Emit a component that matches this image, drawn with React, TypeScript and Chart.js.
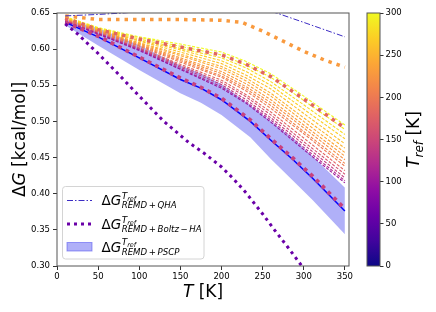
import React, { useEffect, useRef } from "react";
import { Chart, registerables } from "chart.js";
Chart.register(...registerables);

// ---------------- data ----------------
const T_FAN = [10, 50, 100, 150, 200, 230, 260, 300, 350];
const TREF_FAN = [300, 290, 280, 270, 260, 250, 240, 230, 220, 210, 200, 180, 160, 140, 120, 100];
const DG_TREF_300 = [0.645, 0.630, 0.617, 0.607, 0.596, 0.583, 0.566, 0.535, 0.495];
const DG_TREF_290 = [0.644, 0.629, 0.616, 0.604, 0.592, 0.578, 0.561, 0.529, 0.489];
const DG_TREF_280 = [0.644, 0.629, 0.614, 0.601, 0.588, 0.574, 0.555, 0.523, 0.482];
const DG_TREF_270 = [0.643, 0.628, 0.612, 0.599, 0.584, 0.569, 0.550, 0.517, 0.476];
const DG_TREF_260 = [0.643, 0.627, 0.611, 0.596, 0.580, 0.564, 0.545, 0.511, 0.469];
const DG_TREF_250 = [0.642, 0.626, 0.609, 0.593, 0.576, 0.560, 0.539, 0.505, 0.463];
const DG_TREF_240 = [0.642, 0.626, 0.608, 0.591, 0.573, 0.556, 0.535, 0.500, 0.457];
const DG_TREF_230 = [0.641, 0.625, 0.607, 0.588, 0.569, 0.552, 0.530, 0.495, 0.452];
const DG_TREF_220 = [0.641, 0.625, 0.606, 0.586, 0.566, 0.548, 0.526, 0.491, 0.447];
const DG_TREF_210 = [0.640, 0.624, 0.605, 0.584, 0.563, 0.545, 0.522, 0.486, 0.442];
const DG_TREF_200 = [0.640, 0.624, 0.604, 0.582, 0.561, 0.542, 0.518, 0.483, 0.438];
const DG_TREF_180 = [0.640, 0.623, 0.602, 0.579, 0.557, 0.537, 0.513, 0.477, 0.432];
const DG_TREF_160 = [0.639, 0.622, 0.601, 0.577, 0.554, 0.534, 0.509, 0.472, 0.427];
const DG_TREF_140 = [0.639, 0.622, 0.600, 0.575, 0.551, 0.530, 0.505, 0.468, 0.422];
const DG_TREF_120 = [0.638, 0.621, 0.599, 0.573, 0.548, 0.527, 0.502, 0.464, 0.418];
const DG_TREF_100 = [0.638, 0.621, 0.598, 0.572, 0.546, 0.525, 0.499, 0.461, 0.415];
const FAN_SERIES = [
  DG_TREF_300, DG_TREF_290, DG_TREF_280, DG_TREF_270, DG_TREF_260, DG_TREF_250,
  DG_TREF_240, DG_TREF_230, DG_TREF_220, DG_TREF_210, DG_TREF_200, DG_TREF_180,
  DG_TREF_160, DG_TREF_140, DG_TREF_120, DG_TREF_100,
];

const DG_UPPER_DOTTED = [0.643, 0.627, 0.614, 0.603, 0.592, 0.579, 0.562, 0.531, 0.491];

const T_PSCP = [10, 50, 100, 150, 175, 200, 235, 260, 287, 311, 350];
const DG_PSCP = [0.637, 0.617, 0.588, 0.558, 0.546, 0.530, 0.500, 0.474, 0.447, 0.421, 0.376];
const DG_PSCP_HIGH = [0.641, 0.629, 0.605, 0.577, 0.566, 0.551, 0.522, 0.500, 0.476, 0.451, 0.408];
const DG_PSCP_LOW = [0.633, 0.605, 0.571, 0.539, 0.526, 0.509, 0.478, 0.448, 0.418, 0.391, 0.344];
const DG_LOWER_DOTTED = [0.637, 0.618, 0.589, 0.560, 0.547, 0.532, 0.502, 0.476, 0.449, 0.424, 0.379];

const T_QHA = [10, 50, 80, 150, 200, 250, 267, 300, 350];
const DG_QHA = [0.646, 0.648, 0.650, 0.656, 0.658, 0.655, 0.650, 0.637, 0.617];

const T_BOLTZ = [10, 25, 50, 75, 100, 130, 160, 180, 200, 215, 230, 250, 265, 280, 297, 320, 350];
const DG_BOLTZ = [0.635, 0.621, 0.594, 0.565, 0.535, 0.500, 0.471, 0.455, 0.437, 0.420, 0.401, 0.372, 0.349, 0.327, 0.301, 0.265, 0.220];

const T_ORANGE = [10, 50, 100, 150, 200, 225, 250, 275, 300, 325, 350];
const DG_ORANGE = [0.646, 0.641, 0.641, 0.641, 0.640, 0.637, 0.625, 0.611, 0.597, 0.585, 0.575];

const X_TICK_STEP = 50;
const Y_TICK_STEP = 0.05;
const CB_TICK_STEP = 50;

// ---------------- styles ----------------
const FONT = '"DejaVu Sans", "Liberation Sans", sans-serif';
const PLASMA = ["#0d0887", "#41049d", "#6a00a8", "#8f0da4", "#b12a90", "#cc4778", "#e16462", "#f2844b", "#fca636", "#fcce25", "#f0f921"];

function hexToRgb(h: string) {
  return [parseInt(h.slice(1, 3), 16), parseInt(h.slice(3, 5), 16), parseInt(h.slice(5, 7), 16)];
}
function plasma(t: number) {
  const tt = Math.max(0, Math.min(1, t)) * (PLASMA.length - 1);
  const i = Math.min(PLASMA.length - 2, Math.floor(tt));
  const f = tt - i;
  const a = hexToRgb(PLASMA[i]);
  const b = hexToRgb(PLASMA[i + 1]);
  const c = a.map((v, k) => Math.round(v + (b[k] - v) * f));
  return `rgb(${c[0]},${c[1]},${c[2]})`;
}

const zip = (xs: number[], ys: number[]) => xs.map((x, i) => ({ x, y: ys[i] }));

type Seg = { t: string; font: string; dy?: number; gap?: number };
function segWidth(ctx: CanvasRenderingContext2D, segs: Seg[]) {
  let w = 0;
  for (const s of segs) {
    ctx.font = s.font;
    w += ctx.measureText(s.t).width + 2 * (s.gap || 0);
  }
  return w;
}
function drawSegs(ctx: CanvasRenderingContext2D, segs: Seg[], x: number, y: number) {
  let cx = x;
  for (const s of segs) {
    ctx.font = s.font;
    cx += s.gap || 0;
    ctx.fillText(s.t, cx, y + (s.dy || 0));
    cx += ctx.measureText(s.t).width + (s.gap || 0);
  }
  return cx;
}

function drawLegendLabel(ctx: CanvasRenderingContext2D, x: number, y: number, sub: Seg[]) {
  const main = 13.5;
  let cx = drawSegs(ctx, [
    { t: "Δ", font: `${main}px ${FONT}` },
    { t: "G", font: `italic ${main}px ${FONT}` },
  ], x, y);
  cx += 0.5;
  const tx = drawSegs(ctx, [{ t: "T", font: `italic 9px ${FONT}` }], cx, y - 6.5);
  drawSegs(ctx, [{ t: "ref", font: `italic 6.5px ${FONT}` }], tx, y - 4.5);
  drawSegs(ctx, sub, cx, y + 3);
}

const decorPlugin = {
  id: "decor",
  afterDraw(chart: any) {
    const ctx: CanvasRenderingContext2D = chart.ctx;
    const a = chart.chartArea;
    ctx.save();
    // frame
    ctx.strokeStyle = "#555";
    ctx.lineWidth = 1;
    ctx.setLineDash([]);
    ctx.strokeRect(a.left, a.top, a.right - a.left, a.bottom - a.top);

    // legend box
    const bx = 62.5, by = 186.5, bw = 141.5, bh = 72.5, r = 3;
    ctx.beginPath();
    ctx.moveTo(bx + r, by);
    ctx.arcTo(bx + bw, by, bx + bw, by + bh, r);
    ctx.arcTo(bx + bw, by + bh, bx, by + bh, r);
    ctx.arcTo(bx, by + bh, bx, by, r);
    ctx.arcTo(bx, by, bx + bw, by, r);
    ctx.closePath();
    ctx.fillStyle = "rgba(255,255,255,0.85)";
    ctx.fill();
    ctx.strokeStyle = "#d4d4d4";
    ctx.lineWidth = 1;
    ctx.stroke();

    // entry 1: dash-dot
    ctx.strokeStyle = "#3c2cc4";
    ctx.lineWidth = 1;
    ctx.setLineDash([6, 2, 1.5, 2]);
    ctx.beginPath();
    ctx.moveTo(67, 200.5);
    ctx.lineTo(92, 200.5);
    ctx.stroke();
    // entry 2: dotted
    ctx.strokeStyle = "#6a00a8";
    ctx.lineWidth = 3;
    ctx.setLineDash([3, 4]);
    ctx.beginPath();
    ctx.moveTo(67, 224);
    ctx.lineTo(92, 224);
    ctx.stroke();
    ctx.setLineDash([]);
    // entry 3: patch
    ctx.fillStyle = "rgba(80,80,240,0.45)";
    ctx.fillRect(67, 242.5, 25, 8.5);
    ctx.strokeStyle = "rgba(80,80,240,0.55)";
    ctx.lineWidth = 1;
    ctx.strokeRect(67, 242.5, 25, 8.5);

    ctx.fillStyle = "#000";
    ctx.textBaseline = "alphabetic";
    ctx.textAlign = "left";
    const it = `italic 8.6px ${FONT}`;
    const up = `8.6px ${FONT}`;
    drawLegendLabel(ctx, 101.5, 205, [
      { t: "REMD", font: it }, { t: "+", font: up, gap: 1.6 }, { t: "QHA", font: it },
    ]);
    drawLegendLabel(ctx, 101.5, 229, [
      { t: "REMD", font: it }, { t: "+", font: up, gap: 1.6 }, { t: "Boltz", font: it },
      { t: "−", font: up, gap: 1.6 }, { t: "HA", font: it },
    ]);
    drawLegendLabel(ctx, 101.5, 251.5, [
      { t: "REMD", font: it }, { t: "+", font: up, gap: 1.6 }, { t: "PSCP", font: it },
    ]);

    // axis titles
    const big = 17;
    const ySegs: Seg[] = [
      { t: "Δ", font: `${big}px ${FONT}` },
      { t: "G", font: `italic ${big}px ${FONT}` },
      { t: " [kcal/mol]", font: `${big}px ${FONT}` },
    ];
    ctx.save();
    ctx.translate(25, (a.top + a.bottom) / 2);
    ctx.rotate(-Math.PI / 2);
    const yw = segWidth(ctx, ySegs);
    drawSegs(ctx, ySegs, -yw / 2, 0);
    ctx.restore();

    const xSegs: Seg[] = [
      { t: "T", font: `italic ${big}px ${FONT}` },
      { t: " [K]", font: `${big}px ${FONT}` },
    ];
    const xw = segWidth(ctx, xSegs);
    drawSegs(ctx, xSegs, (a.left + a.right) / 2 - xw / 2, 297);
    ctx.restore();
  },
};

const cbPlugin = {
  id: "cbar",
  beforeDatasetsDraw(chart: any) {
    const ctx: CanvasRenderingContext2D = chart.ctx;
    const a = chart.chartArea;
    ctx.save();
    const g = ctx.createLinearGradient(0, a.bottom, 0, a.top);
    PLASMA.forEach((c, i) => g.addColorStop(i / (PLASMA.length - 1), c));
    ctx.fillStyle = g;
    ctx.fillRect(a.left, a.top, a.right - a.left, a.bottom - a.top);
    ctx.strokeStyle = "#555";
    ctx.lineWidth = 1;
    ctx.strokeRect(a.left, a.top, a.right - a.left, a.bottom - a.top);
    ctx.restore();
  },
  afterDraw(chart: any) {
    const ctx: CanvasRenderingContext2D = chart.ctx;
    const a = chart.chartArea;
    ctx.save();
    ctx.fillStyle = "#000";
    ctx.textBaseline = "alphabetic";
    const segs: Seg[] = [
      { t: "T", font: `italic 17px ${FONT}` },
      { t: "ref", font: `italic 12px ${FONT}`, dy: 4 },
      { t: " [K]", font: `17px ${FONT}` },
    ];
    ctx.translate(59, (a.top + a.bottom) / 2);
    ctx.rotate(-Math.PI / 2);
    const w = segWidth(ctx, segs);
    drawSegs(ctx, segs, -w / 2, 0);
    ctx.restore();
  },
};

export default function App() {
  const mainRef = useRef<HTMLCanvasElement>(null);
  const cbRef = useRef<HTMLCanvasElement>(null);

  useEffect(() => {
    const datasets: any[] = [];
    // QHA dash-dot (top)
    datasets.push({
      data: zip(T_QHA, DG_QHA), borderColor: "#3c2cc4", borderWidth: 1,
      borderDash: [6, 2, 1.5, 2], order: 1,
    });
    // Boltz-HA dotted
    datasets.push({
      data: zip(T_BOLTZ, DG_BOLTZ), borderColor: "#6a00a8", borderWidth: 3,
      borderDash: [3, 4], order: 2,
    });
    // orange dotted
    datasets.push({
      data: zip(T_ORANGE, DG_ORANGE), borderColor: "#f99a3e", borderWidth: 3.5,
      borderDash: [3.5, 5], order: 3,
    });
    // upper pink dotted
    datasets.push({
      data: zip(T_FAN, DG_UPPER_DOTTED), borderColor: "#e2665f", borderWidth: 3.5,
      borderDash: [3.5, 5], order: 4,
    });
    // lower dotted along PSCP
    datasets.push({
      data: zip(T_PSCP, DG_LOWER_DOTTED), borderColor: "#c8417e", borderWidth: 3.8,
      borderDash: [3.8, 4.5], order: 5,
    });
    // PSCP blue line
    datasets.push({
      data: zip(T_PSCP, DG_PSCP), borderColor: "#0000ff", borderWidth: 1.5, order: 6,
    });
    // fan of dashed lines
    FAN_SERIES.forEach((vals, i) => {
      datasets.push({
        data: zip(T_FAN, vals), borderColor: plasma(TREF_FAN[i] / 300), borderWidth: 1.1,
        borderDash: [3, 1.5], order: 10 + (FAN_SERIES.length - i),
      });
    });
    // PSCP band
    const lowIdx = datasets.length;
    datasets.push({
      data: zip(T_PSCP, DG_PSCP_LOW), borderColor: "rgba(0,0,0,0)", borderWidth: 0, order: 100,
    });
    datasets.push({
      data: zip(T_PSCP, DG_PSCP_HIGH), borderColor: "rgba(80,80,240,0.35)", borderWidth: 0.5,
      backgroundColor: "rgba(80,80,240,0.45)", fill: { target: lowIdx }, order: 99,
    });
    datasets.forEach((d) => {
      d.pointRadius = 0;
      d.tension = 0;
      d.clip = 0;
      d.borderCapStyle = "butt";
      if (d.fill === undefined) d.fill = false;
    });

    const chart = new Chart(mainRef.current!, {
      type: "line",
      data: { datasets },
      options: {
        animation: false,
        responsive: false,
        devicePixelRatio: 1,
        events: [],
        layout: { padding: { left: 0, right: 87, top: 13, bottom: 0 } },
        plugins: { legend: { display: false }, tooltip: { enabled: false } },
        scales: {
          x: {
            type: "linear", min: 0, max: 355,
            afterFit: (s: any) => { s.height = 46; },
            ticks: {
              stepSize: X_TICK_STEP, includeBounds: false, maxRotation: 0, autoSkip: false,
              color: "#000", font: { family: FONT, size: 8.5 }, padding: 2,
            },
            grid: { drawOnChartArea: false, drawTicks: true, tickLength: 4, color: "#333" },
            border: { display: false },
          },
          y: {
            type: "linear", min: 0.3, max: 0.65,
            afterFit: (s: any) => { s.width = 57; },
            ticks: {
              stepSize: Y_TICK_STEP, includeBounds: false, autoSkip: false,
              color: "#000", font: { family: FONT, size: 8.5 }, padding: 3,
              callback: (v: any) => Number(v).toFixed(2),
            },
            grid: { drawOnChartArea: false, drawTicks: true, tickLength: 4, color: "#333" },
            border: { display: false },
          },
        },
      },
      plugins: [decorPlugin],
    });

    const cb = new Chart(cbRef.current!, {
      type: "line",
      data: { datasets: [] },
      options: {
        animation: false,
        responsive: false,
        devicePixelRatio: 1,
        events: [],
        layout: { padding: { left: 7, right: 0, top: 13, bottom: 46 } },
        plugins: { legend: { display: false }, tooltip: { enabled: false } },
        scales: {
          x: { type: "linear", min: 0, max: 1, display: false },
          y: {
            type: "linear", position: "right", min: 0, max: 300,
            afterFit: (s: any) => { s.width = 56; },
            ticks: {
              stepSize: CB_TICK_STEP, autoSkip: false, color: "#000",
              font: { family: FONT, size: 8.5 }, padding: 2,
            },
            grid: { drawOnChartArea: false, drawTicks: true, tickLength: 3.5, color: "#333" },
            border: { display: false },
          },
        },
      },
      plugins: [cbPlugin],
    });

    return () => {
      chart.destroy();
      cb.destroy();
    };
  }, []);

  return (
    <div style={{ position: "absolute", left: 0, top: 0, width: 436, height: 312, background: "#fff" }}>
      <canvas ref={mainRef} width={436} height={312} style={{ position: "absolute", left: 0, top: 0 }} />
      <canvas ref={cbRef} width={76} height={312} style={{ position: "absolute", left: 360, top: 0 }} />
    </div>
  );
}
